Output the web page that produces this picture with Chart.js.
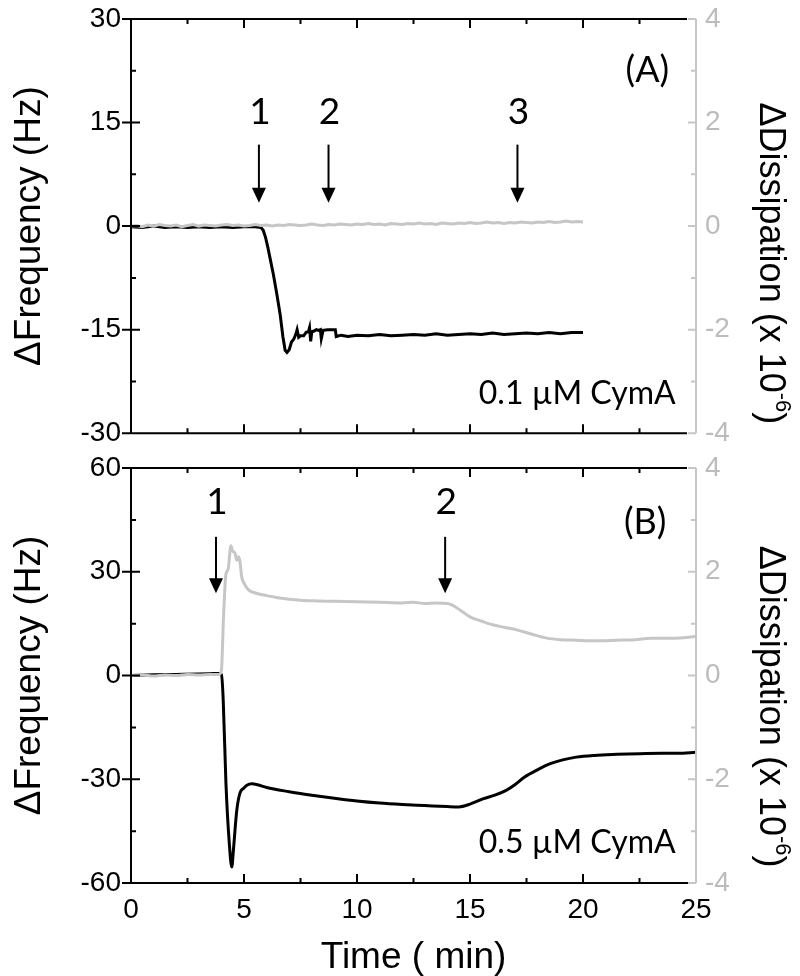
<!DOCTYPE html>
<html>
<head>
<meta charset="utf-8">
<script src="https://cdn.jsdelivr.net/npm/chart.js@4.4.0/dist/chart.umd.min.js"></script>
<style>
  html, body { margin: 0; padding: 0; background: #fff; }
  #wrap { position: relative; width: 800px; height: 976px; }
  #wrap canvas { position: absolute; left: 0; }
</style>
</head>
<body>
<div id="wrap">
  <canvas id="chartA" width="800" height="450" style="top:0"></canvas>
  <canvas id="chartB" width="800" height="526" style="top:450px"></canvas>
</div>
<script>
// ---- panel A, 0.1 uM CymA ----
var freqATime = [0, 0.5, 1, 1.5, 2, 2.5, 3, 3.5, 4, 4.5, 5, 5.5, 5.75, 5.85, 5.95, 6.05, 6.15, 6.3, 6.45, 6.6,
    6.72, 6.82, 6.9, 7.0, 7.1, 7.2, 7.3, 7.35, 7.42, 7.5, 7.64, 7.75, 7.85, 7.9, 7.95, 8.0, 8.1, 8.2, 8.3, 8.38,
    8.42, 8.5, 8.7, 8.9, 9.04, 9.08, 9.3, 9.6, 10, 10.5, 11, 11.5, 12, 12.5, 13, 13.5, 14, 14.5, 15, 15.5,
    16, 16.5, 17, 17.5, 18, 18.5, 19, 19.5, 20];
var freqA = [-0.1, -0.2, 0.0, -0.2, -0.1, -0.2, -0.1, -0.2, -0.1, -0.2, -0.1, -0.1, -0.2, -0.6, -1.6, -3.0, -4.6, -7.0, -9.8, -12.8,
    -16.0, -18.0, -18.3, -17.9, -16.8, -16.4, -15.6, -15.0, -16.1, -15.9, -15.9, -15.4, -15.3, -14.7, -16.7, -15.3, -15.2, -15.0, -15.1, -15.0,
    -16.3, -15.1, -15.0, -15.0, -15.0, -16.0, -15.8, -16.0, -15.8, -15.9, -15.7, -15.9, -15.8, -15.7, -15.8, -15.6, -15.8, -15.7, -15.6, -15.7,
    -15.5, -15.7, -15.6, -15.5, -15.6, -15.4, -15.6, -15.4, -15.4];
// dissipation A sampled every 0.25 min from t = 0
var dissAStep = 0.25;
var dissA = [0.00, 0.01, -0.01, 0.02, 0.00, 0.03, 0.01, 0.00, 0.02, -0.01, 0.01, 0.03, 0.00, 0.02, 0.01, 0.00, 0.02, 0.03, 0.01, 0.02,
    0.00, 0.01, 0.03, 0.01, 0.02, 0.00, 0.02, 0.01, 0.03, 0.02,
    0.01, 0.02, 0.04, 0.02, 0.01, 0.03, 0.02, 0.04, 0.03, 0.02,
    0.04, 0.03, 0.05, 0.03, 0.04, 0.02, 0.05, 0.04, 0.03, 0.05,
    0.04, 0.06, 0.04, 0.05, 0.03, 0.06, 0.05, 0.04, 0.06, 0.05,
    0.07, 0.05, 0.06, 0.08, 0.06, 0.07, 0.05, 0.07, 0.06, 0.08,
    0.07, 0.06, 0.08, 0.07, 0.09, 0.07, 0.08, 0.10, 0.08, 0.09,
    0.08];

// ---- panel B, 0.5 uM CymA ----
var freqBTime = [0, 1, 2, 3, 3.5, 3.9, 4.0, 4.08, 4.2, 4.35, 4.46, 4.53, 4.68, 4.82, 5.0, 5.11, 5.35, 5.6, 6.0, 7.0,
    8, 9, 10, 11, 12, 13, 14, 14.5, 15, 15.6, 16.1, 16.6, 17, 17.4, 18, 18.55, 19.1, 19.7, 20.5, 21.5,
    22.5, 23.5, 24.2, 25];
var freqB = [0.0, 0.2, 0.3, 0.4, 0.5, 0.6, 0.3, -7, -31, -48.6, -55.4, -50.6, -39, -34, -32.5, -31.8, -31.3, -31.6, -32.4, -33.6,
    -34.6, -35.5, -36.3, -36.9, -37.3, -37.6, -37.9, -38.0, -37.2, -35.6, -34.6, -33.2, -31.5, -29.4, -27.2, -25.5, -24.4, -23.6, -23.1, -22.8,
    -22.6, -22.5, -22.5, -22.2];
var dissBTime = [0, 0.5, 1, 1.5, 2, 2.5, 3, 3.5, 3.9, 4.0, 4.1, 4.2, 4.3, 4.42, 4.5, 4.6, 4.68, 4.75, 4.82, 4.9,
    5.0, 5.2, 5.5, 6.0, 6.5, 7.0, 7.5, 8.0, 9, 10, 11, 12, 12.5, 13, 13.5, 14.0, 14.2, 14.6, 15.0, 15.5,
    15.9, 16.5, 17.07, 17.7, 18.4, 19.0, 19.7, 20.5, 21.5, 22.3, 23.0, 24.0, 25];
var dissB = [0.0, 0.01, -0.01, 0.01, 0.0, 0.02, 0.01, 0.02, 0.02, 0.1, 1.2, 1.95, 2.05, 2.5, 2.4, 2.36, 2.22, 2.29, 2.2, 1.9,
    1.78, 1.65, 1.59, 1.54, 1.5, 1.47, 1.45, 1.44, 1.43, 1.42, 1.41, 1.40, 1.41, 1.39, 1.40, 1.39, 1.36, 1.25, 1.13, 1.05,
    0.99, 0.93, 0.88, 0.80, 0.72, 0.69, 0.68, 0.67, 0.68, 0.69, 0.72, 0.72, 0.75];

// injection arrows (time in min)
var arrowsA = [{ label: '1', t: 5.66 }, { label: '2', t: 8.74 }, { label: '3', t: 17.1 }];
var arrowsB = [{ label: '1', t: 3.76 }, { label: '2', t: 13.9 }];

var BLACK = '#000000';
var GREY = '#c6c6c6';
var GREY_TEXT = '#bcbcbc';
var ARIAL = "'Liberation Sans', Arial, sans-serif";
var NOTE = "Lato, 'Open Sans', sans-serif";
var TICK_FONT = { family: ARIAL, size: 28 };
var CLEAR = 'rgba(0,0,0,0)';

function points(xs, ys) {
    return ys.map(function (y, i) { return { x: xs[i], y: y }; });
}
function stepPoints(step, ys) {
    return ys.map(function (y, i) { return { x: i * step, y: y }; });
}

// minor positions = midpoints of the major ticks
function tickValues(scale) {
    var major = scale.ticks.map(function (t) { return t.value; });
    var minor = [];
    for (var i = 1; i < major.length; i++) minor.push((major[i - 1] + major[i]) / 2);
    return { major: major, minor: minor };
}

// invisible tick marks only to push the labels away from the axis
function spacer(len) {
    return { display: true, drawOnChartArea: false, drawTicks: true, tickLength: len, color: CLEAR };
}

var framePlugin = {
    id: 'frame',
    afterDraw: function (chart, args, opts) {
        var ctx = chart.ctx, a = chart.chartArea;
        var sx = chart.scales.x, yL = chart.scales.yL, yR = chart.scales.yR;
        var cut = a.right - 9;
        ctx.save();
        ctx.lineWidth = 2;
        ctx.strokeStyle = BLACK;
        ctx.beginPath();
        ctx.moveTo(a.left, a.top); ctx.lineTo(a.left, a.bottom);
        ctx.moveTo(a.left, a.top); ctx.lineTo(cut, a.top);
        ctx.moveTo(a.left, a.bottom); ctx.lineTo(opts.fullBottom ? a.right : cut, a.bottom);
        var tx = tickValues(sx);
        tx.major.concat(tx.minor).forEach(function (v) {
            if (v <= sx.min || v >= sx.max) return;
            var len = tx.major.indexOf(v) >= 0 ? 9 : 5;
            var px = sx.getPixelForValue(v);
            ctx.moveTo(px, a.top); ctx.lineTo(px, a.top + len);
            ctx.moveTo(px, a.bottom); ctx.lineTo(px, a.bottom - len);
        });
        var tl = tickValues(yL);
        tl.major.forEach(function (v) {
            var py = yL.getPixelForValue(v);
            ctx.moveTo(a.left - 9, py); ctx.lineTo(a.left + 9, py);
        });
        tl.minor.forEach(function (v) {
            var py = yL.getPixelForValue(v);
            ctx.moveTo(a.left, py); ctx.lineTo(a.left + 5, py);
        });
        ctx.stroke();

        ctx.strokeStyle = GREY;
        ctx.beginPath();
        ctx.moveTo(a.right, a.top); ctx.lineTo(a.right, a.bottom);
        var tr = tickValues(yR);
        tr.major.concat(tr.minor).forEach(function (v) {
            var len = tr.major.indexOf(v) >= 0 ? 8 : 5;
            var py = yR.getPixelForValue(v);
            ctx.moveTo(a.right, py); ctx.lineTo(a.right - len, py);
        });
        ctx.stroke();

        // arrows with numbers
        ctx.fillStyle = BLACK;
        ctx.strokeStyle = BLACK;
        ctx.textAlign = 'center';
        ctx.textBaseline = 'middle';
        ctx.font = '37px ' + NOTE;
        opts.arrows.forEach(function (ar) {
            var px = sx.getPixelForValue(ar.t);
            var top = yL.getPixelForValue(opts.arrowTop);
            var tip = yL.getPixelForValue(opts.arrowTip);
            ctx.fillText(ar.label, px + 1, yL.getPixelForValue(opts.labelY));
            ctx.beginPath();
            ctx.moveTo(px, top); ctx.lineTo(px, tip - 10);
            ctx.stroke();
            ctx.beginPath();
            ctx.moveTo(px - 7, tip - 15); ctx.lineTo(px + 7, tip - 15); ctx.lineTo(px, tip);
            ctx.closePath();
            ctx.fill();
        });

        ctx.font = '36px ' + NOTE;
        ctx.fillText(opts.panel.text, sx.getPixelForValue(opts.panel.t), yL.getPixelForValue(opts.panel.y));
        ctx.font = '32px ' + NOTE;
        ctx.textAlign = 'right';
        ctx.textBaseline = 'alphabetic';
        ctx.fillText(opts.conc.text, sx.getPixelForValue(opts.conc.t), yL.getPixelForValue(opts.conc.y));

        // right axis title with superscript, reading top to bottom
        var main = '\u0394Dissipation (x 10', sup = '-6', tail = ')';
        ctx.save();
        ctx.translate(a.right + 74, yR.getPixelForValue(opts.rightTitleY));
        ctx.rotate(Math.PI / 2);
        ctx.textAlign = 'left';
        ctx.textBaseline = 'middle';
        ctx.font = '36px ' + ARIAL;
        var w1 = ctx.measureText(main).width, w3 = ctx.measureText(tail).width;
        ctx.font = '22px ' + ARIAL;
        var w2 = ctx.measureText(sup).width;
        var x0 = -(w1 + w2 + w3) / 2;
        ctx.font = '36px ' + ARIAL;
        ctx.fillText(main, x0, 0);
        ctx.fillText(tail, x0 + w1 + w2, 0);
        ctx.font = '22px ' + ARIAL;
        ctx.fillText(sup, x0 + w1, -12);
        ctx.restore();

        ctx.restore();
    }
};

function makeChart(id, cfg) {
    return new Chart(document.getElementById(id), {
        type: 'line',
        data: {
            datasets: [
                { label: 'Dissipation', data: cfg.diss, yAxisID: 'yR', borderColor: GREY, borderWidth: 3,
                  pointRadius: 0, order: 1, cubicInterpolationMode: cfg.smooth ? 'monotone' : 'default', tension: 0 },
                { label: 'Frequency', data: cfg.freq, yAxisID: 'yL', borderColor: BLACK, borderWidth: 3,
                  pointRadius: 0, order: 2, cubicInterpolationMode: cfg.smooth ? 'monotone' : 'default', tension: 0 }
            ]
        },
        options: {
            responsive: false,
            animation: false,
            devicePixelRatio: 1,
            layout: { padding: { top: cfg.padTop, bottom: 0, left: 0, right: 0 } },
            plugins: {
                legend: { display: false },
                tooltip: { enabled: false },
                frame: cfg.notes
            },
            scales: {
                x: {
                    type: 'linear', min: 0, max: 25,
                    grid: spacer(10), border: { display: false },
                    ticks: { stepSize: 5, display: cfg.xLabels, color: BLACK, font: TICK_FONT, padding: 0, maxRotation: 0 },
                    title: { display: cfg.xLabels, text: 'Time ( min)', color: BLACK,
                             font: { family: ARIAL, size: 37 }, padding: { top: 0, bottom: -4 } },
                    afterFit: function (s) { s.height = cfg.xHeight; }
                },
                yL: {
                    position: 'left', min: cfg.fMin, max: cfg.fMax,
                    grid: spacer(10), border: { display: false },
                    ticks: { stepSize: cfg.fStep, color: BLACK, font: TICK_FONT, padding: 0 },
                    title: { display: true, text: '\u0394Frequency (Hz)', color: BLACK,
                             font: { family: ARIAL, size: 37 }, padding: { top: 8, bottom: 0 } },
                    afterFit: function (s) { s.width = 131; }
                },
                yR: {
                    position: 'right', min: -4, max: 4,
                    grid: spacer(9), border: { display: false },
                    ticks: { stepSize: 2, color: GREY_TEXT, font: TICK_FONT, padding: 0 },
                    afterFit: function (s) { s.width = 104; }
                }
            }
        },
        plugins: [framePlugin]
    });
}

makeChart('chartA', {
    freq: points(freqATime, freqA),
    diss: stepPoints(dissAStep, dissA),
    smooth: false,
    padTop: 19, xHeight: 16, xLabels: false,
    fMin: -30, fMax: 30, fStep: 15,
    notes: {
        arrows: arrowsA, arrowTop: 11.8, arrowTip: 3.4, labelY: 16.5,
        panel: { text: '(A)', t: 22.85, y: 22.6 },
        conc: { text: '0.1 \u00B5M CymA', t: 24.1, y: -25.8 },
        rightTitleY: -0.72, fullBottom: false
    }
});

makeChart('chartB', {
    freq: points(freqBTime, freqB),
    diss: points(dissBTime, dissB),
    smooth: true,
    padTop: 18, xHeight: 93, xLabels: true,
    fMin: -60, fMax: 60, fStep: 30,
    notes: {
        arrows: arrowsB, arrowTop: 40.1, arrowTip: 23.8, labelY: 50.2,
        panel: { text: '(B)', t: 22.75, y: 44.4 },
        conc: { text: '0.5 \u00B5M CymA', t: 24.1, y: -51.4 },
        rightTitleY: -0.6, fullBottom: true
    }
});
</script>
</body>
</html>
